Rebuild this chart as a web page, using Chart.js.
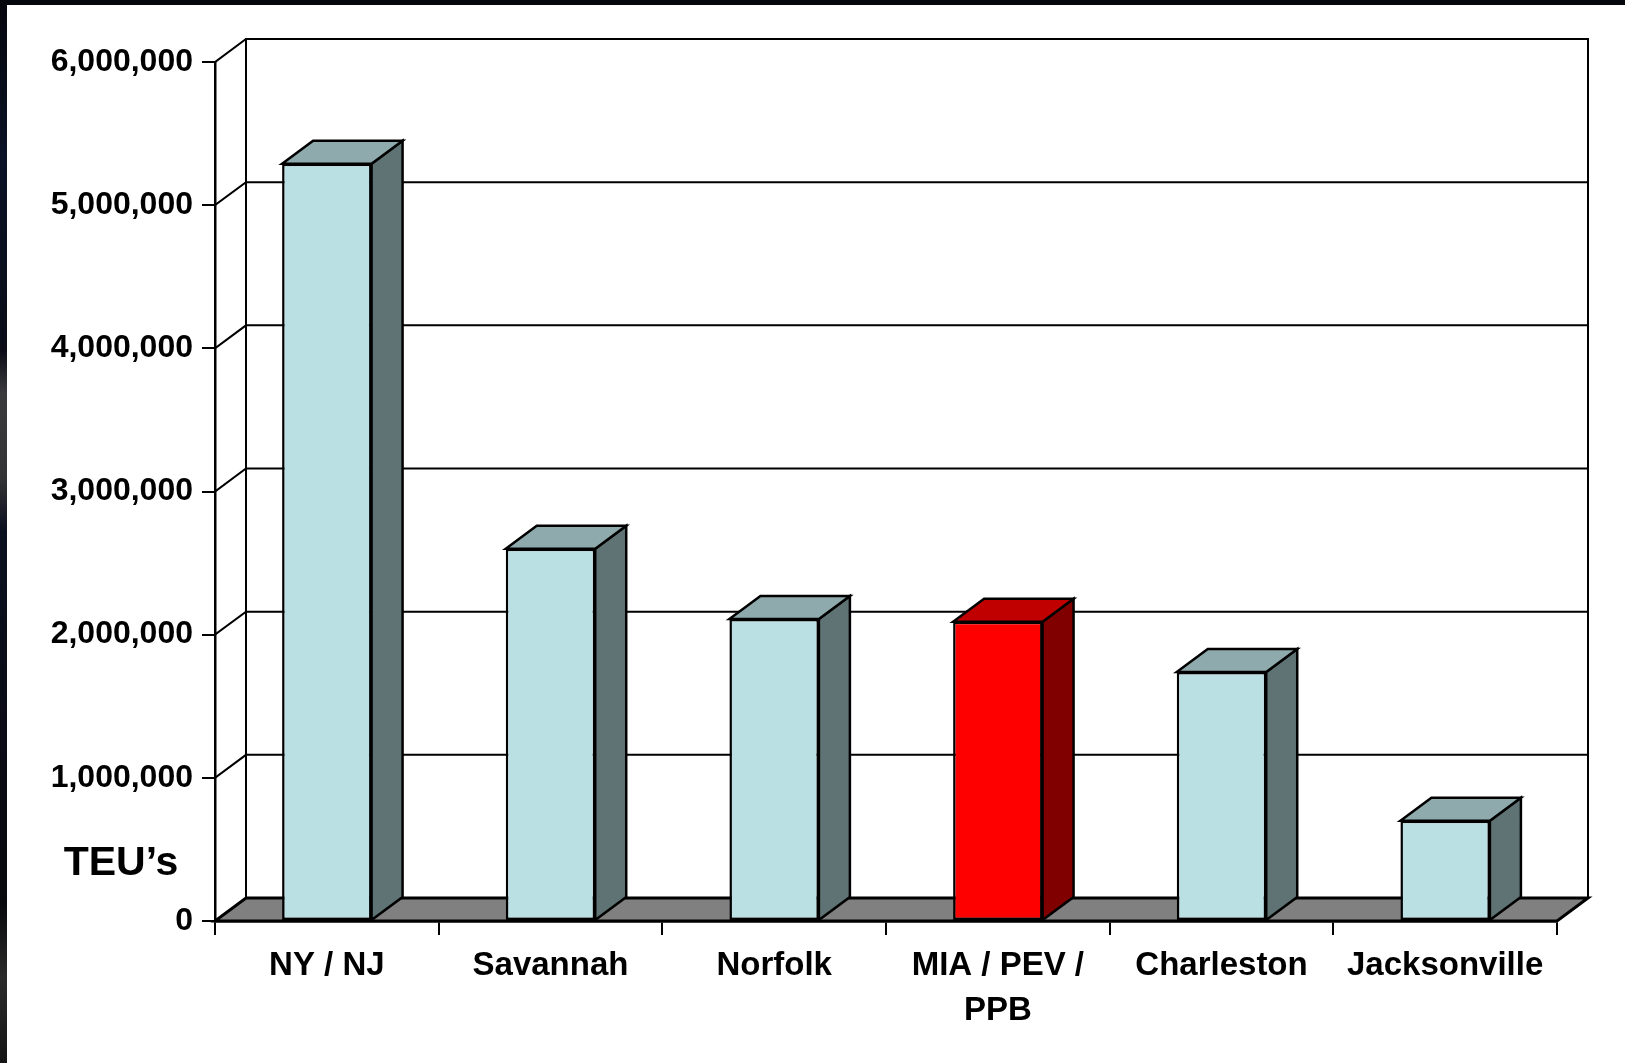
<!DOCTYPE html>
<html>
<head>
<meta charset="utf-8">
<script src="https://cdn.jsdelivr.net/npm/chart.js@4.4.1/dist/chart.umd.min.js"></script>
<style>
  html, body { margin: 0; padding: 0; background: #ffffff; }
  #wrap { width: 1625px; height: 1063px; position: relative; }
  canvas { display: block; }
</style>
</head>
<body>
<div id="wrap"><canvas id="c" width="1625" height="1063"></canvas></div>
<script>
// ---- data ----
const categories = ["NY / NJ", "Savannah", "Norfolk", ["MIA / PEV /", "PPB"], "Charleston", "Jacksonville"];
const teuValues = [5290000, 2600000, 2110000, 2090000, 1740000, 700000];
const yTickValues = [0, 1000000, 2000000, 3000000, 4000000, 5000000, 6000000];
const axisTitle = "TEU\u2019s";

// ---- styles ----
const FONT = "'Liberation Sans', Arial, sans-serif";
const highlightIndex = 3;
const frontColors = teuValues.map((v, i) => i === highlightIndex ? "#FF0000" : "#BBE0E3");
const topColors = teuValues.map((v, i) => i === highlightIndex ? "#C00000" : "#8FAAAC");
const sideColors = teuValues.map((v, i) => i === highlightIndex ? "#800000" : "#5F7374");
const DX = 31, DY = 23;

const threeD = {
  id: "threeD",
  beforeDraw(chart) {
    const ctx = chart.ctx;
    ctx.save();
    ctx.fillStyle = "#ffffff";
    ctx.fillRect(0, 0, chart.width, chart.height);
    // dark frame at left and top
    const g = ctx.createLinearGradient(0, 0, 0, chart.height);
    g.addColorStop(0.0, "#05070d");
    g.addColorStop(0.15, "#0b1226");
    g.addColorStop(0.33, "#0a0d18");
    g.addColorStop(0.37, "#3a3a3c");
    g.addColorStop(0.45, "#333335");
    g.addColorStop(0.50, "#0b1020");
    g.addColorStop(0.85, "#08090c");
    g.addColorStop(0.92, "#2a2a2a");
    g.addColorStop(1.0, "#151515");
    ctx.fillStyle = g;
    ctx.fillRect(0, 0, 7, chart.height);
    ctx.fillStyle = "#05070d";
    ctx.fillRect(0, 0, chart.width, 5);
    ctx.restore();
  },
  beforeDatasetsDraw(chart) {
    const ctx = chart.ctx;
    const y = chart.scales.y;
    const L = chart.chartArea.left, R = chart.chartArea.right;
    const T = y.getPixelForValue(yTickValues[yTickValues.length - 1]);
    const B = y.getPixelForValue(0);
    ctx.save();
    ctx.strokeStyle = "#000";
    ctx.lineCap = "square";
    ctx.lineWidth = 2;
    yTickValues.forEach(v => {
      if (v === 0) return;
      const py = y.getPixelForValue(v);
      ctx.beginPath();
      ctx.moveTo(L, py);
      ctx.lineTo(L + DX, py - DY);
      ctx.lineTo(R + DX, py - DY);
      ctx.stroke();
    });
    ctx.beginPath();
    ctx.moveTo(L + DX, T - DY);
    ctx.lineTo(L + DX, B - DY);
    ctx.moveTo(R + DX, T - DY);
    ctx.lineTo(R + DX, B - DY);
    ctx.stroke();
    // floor
    ctx.beginPath();
    ctx.moveTo(L, B);
    ctx.lineTo(R, B);
    ctx.lineTo(R + DX, B - DY);
    ctx.lineTo(L + DX, B - DY);
    ctx.closePath();
    ctx.fillStyle = "#808080";
    ctx.fill();
    ctx.lineWidth = 3;
    ctx.lineJoin = "miter";
    ctx.stroke();
    ctx.restore();
  },
  afterDatasetsDraw(chart) {
    const ctx = chart.ctx;
    const meta = chart.getDatasetMeta(0);
    ctx.save();
    ctx.strokeStyle = "#000";
    ctx.lineWidth = 2.5;
    ctx.lineJoin = "miter";
    meta.data.forEach((bar, i) => {
      const p = bar.getProps(["x", "y", "base", "width"], true);
      const l = p.x - p.width / 2, r = p.x + p.width / 2;
      ctx.beginPath();
      ctx.moveTo(r, p.y);
      ctx.lineTo(r + DX, p.y - DY);
      ctx.lineTo(r + DX, p.base - DY);
      ctx.lineTo(r, p.base);
      ctx.closePath();
      ctx.fillStyle = sideColors[i];
      ctx.fill();
      ctx.stroke();
      ctx.beginPath();
      ctx.moveTo(l, p.y);
      ctx.lineTo(l + DX, p.y - DY);
      ctx.lineTo(r + DX, p.y - DY);
      ctx.lineTo(r, p.y);
      ctx.closePath();
      ctx.fillStyle = topColors[i];
      ctx.fill();
      ctx.stroke();
    });
    ctx.restore();
  },
  afterDraw(chart) {
    const ctx = chart.ctx;
    ctx.save();
    ctx.fillStyle = "#000";
    ctx.font = "bold 41px " + FONT;
    ctx.textAlign = "center";
    ctx.textBaseline = "alphabetic";
    ctx.fillText(axisTitle, 121, 875);
    ctx.restore();
  }
};

new Chart(document.getElementById("c"), {
  type: "bar",
  data: {
    labels: categories,
    datasets: [{
      data: teuValues,
      backgroundColor: frontColors,
      borderColor: "#000",
      borderWidth: 2.5,
      borderSkipped: false,
      barPercentage: 0.4,
      categoryPercentage: 1.0
    }]
  },
  options: {
    responsive: false,
    animation: false,
    devicePixelRatio: 1,
    layout: { padding: { top: 62, right: 68, left: 0, bottom: 0 } },
    plugins: { legend: { display: false }, tooltip: { enabled: false } },
    scales: {
      x: {
        offset: true,
        grid: { offset: true, drawOnChartArea: false, drawTicks: true, tickLength: 14, color: "#000", lineWidth: 2 },
        border: { display: true, color: "#000", width: 2.5 },
        ticks: {
          color: "#000",
          font: { family: FONT, size: 33, weight: "bold", lineHeight: 1.364 },
          padding: 8,
          maxRotation: 0,
          autoSkip: false
        },
        afterFit(scale) { scale.height = 142; }
      },
      y: {
        min: 0,
        max: 6000000,
        afterBuildTicks(scale) { scale.ticks = yTickValues.map(v => ({ value: v })); },
        grid: { drawOnChartArea: false, drawTicks: true, tickLength: 13, color: "#000", lineWidth: 2 },
        border: { display: true, color: "#000", width: 2.5 },
        ticks: {
          color: "#000",
          font: { family: FONT, size: 32, weight: "bold" },
          padding: 9,
          callback: v => Number(v).toLocaleString("en-US")
        },
        afterFit(scale) { scale.width = 215; }
      }
    }
  },
  plugins: [threeD]
});
</script>
</body>
</html>
